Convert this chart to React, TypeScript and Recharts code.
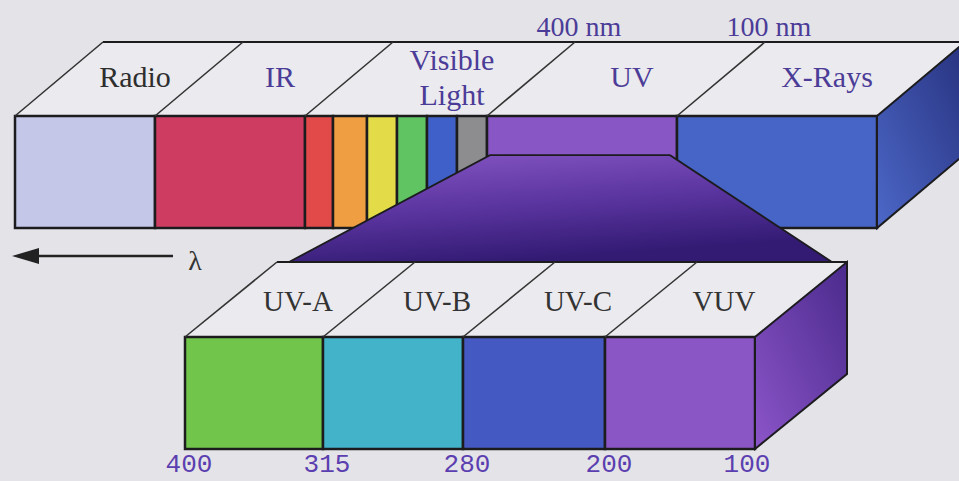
import React from 'react';
import { ComposedChart, Bar, XAxis, YAxis } from 'recharts';

// rows of the diagram (category axis)
const rowNames = ['spectrum', 'ultraviolet'];

// main spectrum block: bands, their stripes (relative widths) and edge wavelengths
const bandNames = ['Radio', 'IR', 'Visible Light', 'UV', 'X-Rays'];
const bandStripes = [[140], [150], [28, 34, 30, 30, 30, 30], [190], [200]];
const bandEdges = ['', '', '', '400 nm', '100 nm'];

// zoomed UV block
const uvLead = 170;
const uvNames = ['UV-A', 'UV-B', 'UV-C', 'VUV'];
const uvWidths = [138, 140, 142, 150];
const uvEdges = ['400', '315', '280', '200', '100'];

const stripeColors = ['#c4c7e7', '#cf3c62', '#e14a49', '#ef9f41', '#e3dc48', '#60c462', '#3f60c8', '#8d8d8f', '#8956c5', '#4765c6'];
const uvColors = ['#72c54b', '#43b3c9', '#4459c1', '#8a55c5'];

const W = 959;
const H = 503;
const M = { top: 61, right: 82, bottom: 0, left: 15 };
const BAR = 112;
const ROW_STEP = (H - M.top - M.bottom) / rowNames.length;
const TOP_D = { dx: 88, dy: 74 };
const LOW_D = { dx: 92, dy: 75 };
const FACE = '#ebeaee';
const INK = '#1c1c1f';
const SERIF = '"Liberation Serif", "Times New Roman", serif';
const MONO = '"Liberation Mono", "DejaVu Sans Mono", monospace';

type Seg = { key: string; units: number; group: number; first: boolean; last: boolean; groupUnits: number; start: number; color: string };

const topSegs: Seg[] = [];
let acc = 0;
bandStripes.forEach((stripes, g) => {
  const groupUnits = stripes.reduce((a, b) => a + b, 0);
  stripes.forEach((u, i) => {
    topSegs.push({ key: `t${topSegs.length}`, units: u, group: g, first: i === 0, last: false, groupUnits, start: acc, color: stripeColors[topSegs.length] });
    acc += u;
  });
});
topSegs[topSegs.length - 1].last = true;
const topTotal = acc;

const uvSegs: Seg[] = uvWidths.map((u, i) => ({
  key: `u${i}`, units: u, group: i, first: true, last: i === uvWidths.length - 1, groupUnits: u,
  start: uvLead + uvWidths.slice(0, i).reduce((a, b) => a + b, 0), color: uvColors[i],
}));
const uvTotal = uvWidths.reduce((a, b) => a + b, 0);
const uvBand = topSegs.find((s) => bandNames[s.group] === 'UV')!;

const data = rowNames.map((row, r) => {
  const d: Record<string, string | number> = { row, lead: r === 1 ? uvLead : 0 };
  topSegs.forEach((s) => (d[s.key] = r === 0 ? s.units : 0));
  uvSegs.forEach((s) => (d[s.key] = r === 1 ? s.units : 0));
  return d;
});

function TopSeg({ p, s }: { p: any; s: Seg }) {
  const { x, y, width, height } = p;
  if (!(width > 0)) return null;
  const k = width / s.units;
  const { dx, dy } = TOP_D;
  const name = bandNames[s.group];
  const lines = name.split(' ');
  const gw = s.groupUnits * k;
  const cx = x + gw / 2 + dx / 2 + (lines.length > 1 ? 12 : 6);
  const cy = y - dy / 2;
  const tw = topTotal * k;
  const purple = name !== 'Radio';
  return (
    <g>
      {s.start === 0 && (
        <g>
          <polygon points={`${x},${y} ${x + dx},${y - dy} ${x + tw + dx},${y - dy} ${x + tw},${y}`} fill={FACE} />
          <line x1={x + dx} y1={y - dy} x2={x + tw + dx + 20} y2={y - dy} stroke={INK} strokeWidth={2} />
        </g>
      )}
      <rect x={x} y={y} width={width} height={height} fill={s.color} stroke={INK} strokeWidth={2.5} />
      {s.first && (
        <g>
          <line x1={x} y1={y} x2={x + dx} y2={y - dy} stroke="#333" strokeWidth={1.6} />
          {lines.map((t, i) => (
            <text key={t} x={cx} y={lines.length > 1 ? cy - 9 + i * 35 : cy + 8} textAnchor="middle"
              fontFamily={SERIF} fontSize={30} fill={purple ? '#4b3c98' : '#2e2e2e'}>{t}</text>
          ))}
          {bandEdges[s.group] && (
            <text x={x + dx + 4} y={y - dy - 6} textAnchor="middle" fontFamily={SERIF} fontSize={28} fill="#4b3c98">
              {bandEdges[s.group]}
            </text>
          )}
        </g>
      )}
      {s.last && (
        <g>
          <defs>
            <linearGradient id="xrSide" x1="0" y1="1" x2="1" y2="0">
              <stop offset="0" stopColor="#4c68c8" />
              <stop offset="1" stopColor="#28327f" />
            </linearGradient>
          </defs>
          <polygon points={`${x + width},${y} ${x + width + dx},${y - dy} ${x + width + dx},${y + height - dy} ${x + width},${y + height}`}
            fill="url(#xrSide)" stroke={INK} strokeWidth={2} />
        </g>
      )}
    </g>
  );
}

function LowSeg({ p, s }: { p: any; s: Seg }) {
  const { x, y, width, height } = p;
  if (!(width > 0)) return null;
  const k = width / s.units;
  const { dx, dy } = LOW_D;
  const tw = uvTotal * k;
  return (
    <g>
      {s.group === 0 && (
        <g>
          <polygon points={`${x},${y} ${x + dx},${y - dy} ${x + tw + dx},${y - dy} ${x + tw},${y}`} fill={FACE} />
          <line x1={x + dx} y1={y - dy} x2={x + tw + dx} y2={y - dy} stroke={INK} strokeWidth={2} />
        </g>
      )}
      <rect x={x} y={y} width={width} height={height} fill={s.color} stroke={INK} strokeWidth={2.5} />
      <line x1={x} y1={y} x2={x + dx} y2={y - dy} stroke="#333" strokeWidth={1.6} />
      <text x={x + width / 2 + dx / 2 - 2} y={y - dy / 2 + 11} textAnchor="middle" fontFamily={SERIF} fontSize={29} fill="#333">
        {uvNames[s.group]}
      </text>
      <text x={x + 4} y={y + height + 23} textAnchor="middle" fontFamily={MONO} fontSize={26} fill="#5b3fb0">
        {uvEdges[s.group]}
      </text>
      {s.last && (
        <g>
          <defs>
            <linearGradient id="vuvSide" x1="0" y1="1" x2="1" y2="0">
              <stop offset="0" stopColor="#8c55c9" />
              <stop offset="1" stopColor="#4a2a8c" />
            </linearGradient>
          </defs>
          <polygon points={`${x + width},${y} ${x + width + dx},${y - dy} ${x + width + dx},${y + height - dy} ${x + width},${y + height}`}
            fill="url(#vuvSide)" stroke={INK} strokeWidth={2} />
          <text x={x + width - 8} y={y + height + 23} textAnchor="middle" fontFamily={MONO} fontSize={26} fill="#5b3fb0">
            {uvEdges[uvEdges.length - 1]}
          </text>
        </g>
      )}
    </g>
  );
}

// invisible lead segment of the UV row: draws the zoom funnel and the wavelength arrow
function Lead({ p }: { p: any }) {
  const { x, y, width, height } = p;
  if (!(width > 0)) return null;
  const k = width / uvLead;
  const topY = y - ROW_STEP;
  const uvStart = x + uvBand.start * k;
  const uvEnd = x + (uvBand.start + uvBand.units) * k;
  const yTop = topY + height * 0.35;
  const yBot = y - LOW_D.dy;
  const lowStart = x + width + LOW_D.dx + 12;
  const lowEnd = x + (uvLead + uvTotal) * k + LOW_D.dx - 15;
  const ay = topY + height + 28;
  return (
    <g>
      <defs>
        <linearGradient id="funnel" x1="0" y1="0" x2="0.35" y2="1">
          <stop offset="0" stopColor="#8757c4" />
          <stop offset="0.5" stopColor="#5e37a3" />
          <stop offset="1" stopColor="#331b74" />
        </linearGradient>
      </defs>
      <polygon points={`${uvStart + 3},${yTop} ${uvEnd - 7},${yTop} ${lowEnd},${yBot} ${lowStart},${yBot}`}
        fill="url(#funnel)" stroke={INK} strokeWidth={1.8} />
      <line x1={x + 18} y1={ay} x2={x + 158} y2={ay} stroke="#222" strokeWidth={2.5} />
      <polygon points={`${x - 3},${ay} ${x + 24},${ay - 8} ${x + 24},${ay + 8}`} fill="#222" />
      <text x={x + 180} y={ay + 14} textAnchor="middle" fontFamily={SERIF} fontSize={28} fill="#333">λ</text>
    </g>
  );
}

export default function App() {
  return (
    <div style={{ position: 'absolute', left: 0, top: 0, width: W, height: 481, overflow: 'hidden', background: '#e4e3e8' }}>
      <ComposedChart width={W} height={H} data={data} layout="vertical" margin={M} barSize={BAR}>
        <XAxis type="number" domain={[0, topTotal]} hide />
        <YAxis type="category" dataKey="row" hide />
        {topSegs.map((s) => (
          <Bar key={s.key} dataKey={s.key} stackId="s" isAnimationActive={false} shape={(p: any) => <TopSeg p={p} s={s} />} />
        ))}
        <Bar dataKey="lead" stackId="s" isAnimationActive={false} shape={(p: any) => <Lead p={p} />} />
        {uvSegs.map((s) => (
          <Bar key={s.key} dataKey={s.key} stackId="s" isAnimationActive={false} shape={(p: any) => <LowSeg p={p} s={s} />} />
        ))}
      </ComposedChart>
    </div>
  );
}
